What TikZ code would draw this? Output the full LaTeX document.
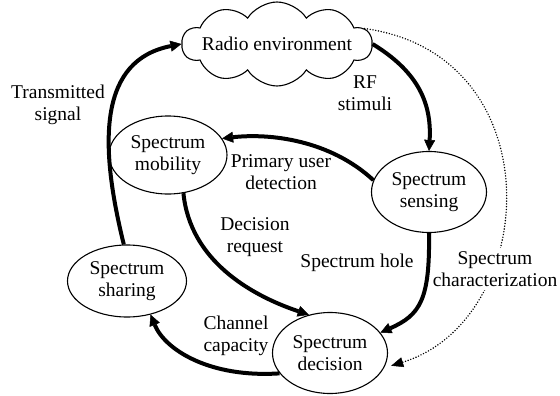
\documentclass[tikz,border=0pt]{standalone}
\usepackage{fontspec}
\setmainfont{Liberation Serif}
\usetikzlibrary{shapes.geometric, shapes.symbols, arrows.meta}

\tikzset{
    stage/.style={ellipse, draw, line width=1.1pt, inner sep=0pt, align=center},
    flow/.style={line width=4pt, -{Triangle[length=11pt, width=11pt, line width=0.5pt]}},
    hint/.style={line width=1.6pt, line cap=round, dash pattern=on 0pt off 2.8pt, -{Triangle[length=12pt, width=10pt, line width=0.5pt, line cap=butt]}},
    note/.style={align=center, inner sep=0pt},
}

\begin{document}
\begin{tikzpicture}[x=1pt, y=-1pt, font=\fontsize{19.5}{22}\selectfont]
    \useasboundingbox (0,0) rectangle (560,396);

    \node[cloud, draw, cloud puffs=10, cloud puff arc=115, cloud ignores aspect, minimum width=190pt, minimum height=84pt, inner sep=0pt, line width=1.1pt] (env) at (277,44) {\makebox[0pt]{Radio environment}};
    \node[stage, minimum width=118pt, minimum height=78pt] (mob) at (168,155) {Spectrum\\mobility};
    \node[stage, minimum width=115pt, minimum height=81pt] (sen) at (429,192) {Spectrum\\sensing};
    \node[stage, minimum width=119pt, minimum height=72pt] (sha) at (127,281) {Spectrum\\sharing};
    \node[stage, minimum width=115pt, minimum height=81pt] (dec) at (330,353) {Spectrum\\decision};

    \node[note] (tsig) at (58,105)  {Transmitted\\signal};
    \node[note] (rf)   at (365,93)  {RF\\stimuli};
    \node[note] (pud)  at (281,172) {Primary user\\detection};
    \node[note] (dreq) at (255,237) {Decision\\request};
    \node[note] (hole) at (357,263) {Spectrum hole};
    \node[note] (cap)  at (236,336) {Channel\\capacity};

    % dotted path runs under its label
    \draw[hint] (env.10) .. controls (555,55) and (540,320) .. ([xshift=6pt]dec.-13);
    \node[note, inner sep=3pt, fill=white] (char) at (495,269) {Spectrum\\characterization};

    \draw[flow] (sha.95)   .. controls (98,140)  and (100,60)  .. (env.west);
    \draw[flow] (env.east) .. controls (415,70)  and (432,100) .. (sen.north);
    \draw[flow] (sen.168)  .. controls (330,140) and (270,133) .. (mob.17);
    \draw[flow] (mob.-68)  .. controls (190,260) and (250,295) .. (dec.119);
    \draw[flow] (sen.south) .. controls (430,300) and (420,315) .. (dec.22);
    \draw[flow] (dec.202)  .. controls (210,378) and (165,350) .. (sha.-55);
\end{tikzpicture}
\end{document}
